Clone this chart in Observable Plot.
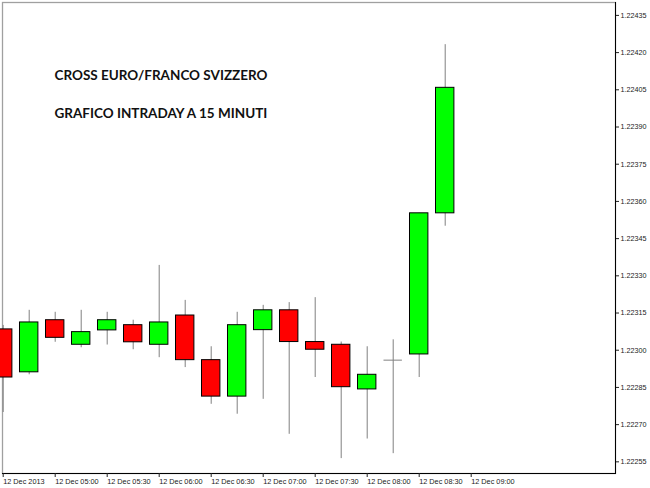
<!DOCTYPE html>
<html><head><meta charset="utf-8">
<script src="https://cdn.jsdelivr.net/npm/d3@7"></script>
<script src="https://cdn.jsdelivr.net/npm/@observablehq/plot@0.6"></script>
<style>body{margin:0;background:#fff}</style>
</head><body><div id="chart"></div><script>
const times = ["04:30","04:45","05:00","05:15","05:30","05:45","06:00","06:15","06:30","06:45","07:00","07:15","07:30","07:45","08:00","08:15","08:30","08:45"];
const open  = [1.223084,1.222911,1.223121,1.223022,1.223080,1.223101,1.223022,1.223140,1.222960,1.222813,1.223081,1.223161,1.223033,1.223022,1.222842,1.222960,1.222983,1.223552];
const high  = [1.223100,1.223161,1.223153,1.223161,1.223153,1.223121,1.223342,1.223201,1.223014,1.223153,1.223181,1.223192,1.223212,1.223033,1.223014,1.223042,1.223552,1.224232];
const low   = [1.222749,1.222901,1.223032,1.223010,1.223021,1.223002,1.222970,1.222930,1.222782,1.222742,1.222802,1.222661,1.222890,1.222563,1.222642,1.222583,1.222890,1.223500];
const close = [1.222890,1.223112,1.223050,1.223073,1.223121,1.223032,1.223112,1.222960,1.222813,1.223101,1.223161,1.223033,1.223002,1.222851,1.222901,1.222960,1.223552,1.224058];

const yTicks = [1.22255,1.22270,1.22285,1.22300,1.22315,1.22330,1.22345,1.22360,1.22375,1.22390,1.22405,1.22420,1.22435];
const xTickTimes = ["04:30","05:00","05:30","06:00","06:30","07:00","07:30","08:00","08:30","09:00"];
const xTickLabels = ["12 Dec 2013","12 Dec 05:00","12 Dec 05:30","12 Dec 06:00","12 Dec 06:30","12 Dec 07:00","12 Dec 07:30","12 Dec 08:00","12 Dec 08:30","12 Dec 09:00"];
const titleLines = ["CROSS EURO/FRANCO SVIZZERO","GRAFICO INTRADAY A 15 MINUTI"];

const toDate = (s, sec = 0) => { const [h, m] = s.split(":").map(Number); return new Date(Date.UTC(2013, 11, 12, h, m, sec)); };
const HALF = 7.5 * 60 * 1000;
const data = times.map((t, i) => ({t: toDate(t), open: open[i], high: high[i], low: low[i], close: close[i]}));
const bodies = data.filter(d => d.open !== d.close);
const dojis = data.filter(d => d.open === d.close);

const chart = Plot.plot({
  width: 650, height: 488,
  marginLeft: 2, marginTop: 2, marginRight: 35, marginBottom: 15,
  style: {fontFamily: "'Liberation Sans', sans-serif", background: "#fff", color: "#222"},
  x: {type: "utc", domain: [new Date(Date.UTC(2013,11,12,4,29,36)), new Date(Date.UTC(2013,11,12,10,23,15))]},
  y: {domain: [1.222503, 1.224402]},
  marks: [
    Plot.frame({stroke: "#a0a0a0", strokeWidth: 1.3}),
    Plot.frame({anchor: "right", stroke: "#000"}),
    Plot.frame({anchor: "bottom", stroke: "#000"}),
    Plot.ruleX(data, {x: "t", y1: "low", y2: "high", stroke: "#808080", strokeWidth: 1}),
    Plot.rect(bodies, {
      x1: d => new Date(+d.t - HALF), x2: d => new Date(+d.t + HALF),
      y1: "open", y2: "close",
      insetLeft: 3.8, insetRight: 3.8,
      fill: d => d.close > d.open ? "#00ff00" : "#ff0000",
      stroke: "#000", strokeWidth: 1
    }),
    Plot.ruleY(dojis, {y: "open", x1: d => new Date(+d.t - HALF), x2: d => new Date(+d.t + HALF), insetLeft: 3.8, insetRight: 3.8, stroke: "#808080"}),
    Plot.axisY({anchor: "right", ticks: yTicks, tickFormat: d3.format(".5f"), tickSize: 3, tickPadding: 2, fontSize: 7.2, label: null}),
    Plot.axisX({anchor: "bottom", ticks: xTickTimes.map(s => toDate(s)), tickFormat: (d, i) => xTickLabels[i], tickSize: 4, tickPadding: 1, textAnchor: "start", dx: 0, fontSize: 7.3, label: null}),
    Plot.text([titleLines.join("\n")], {
      frameAnchor: "top-left", dx: 52, dy: 50.5, textAnchor: "start", lineAnchor: "top",
      lineHeight: 38 / 13.5, fontSize: 13.5, fontWeight: "bold", fontFamily: "Lato, sans-serif", fill: "#111"
    })
  ]
});
document.getElementById("chart").appendChild(chart);
</script></body></html>
